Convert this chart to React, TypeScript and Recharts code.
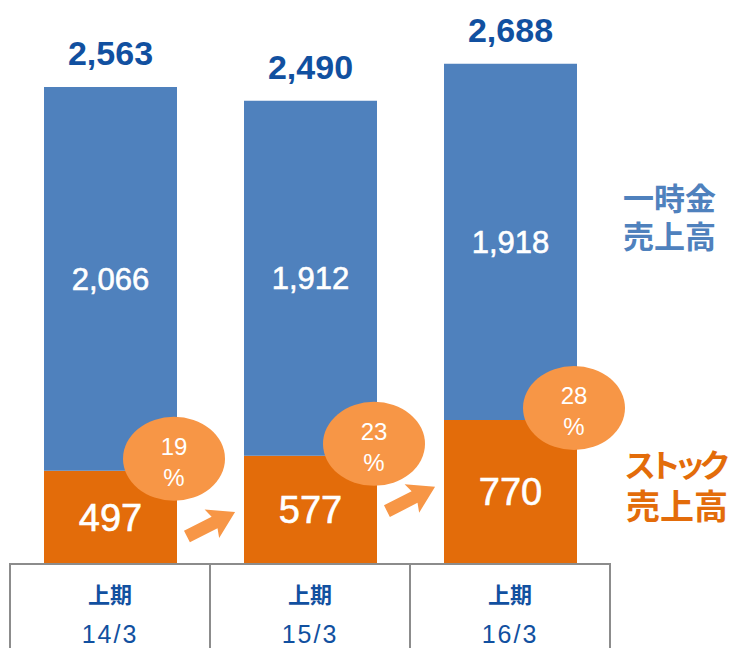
import React from "react";
import { BarChart, Bar, XAxis, YAxis, LabelList } from "recharts";

// ── Data ───────────────────────────────────────────────────────────────────
const periods = ["上期", "上期", "上期"];
const dates = ["14/3", "15/3", "16/3"];
const ichiji = [2066, 1912, 1918];   // 一時金売上高
const stock = [497, 577, 770];       // ストック売上高
const totals = [2563, 2490, 2688];
const shares = [19, 23, 28];         // ストック比率 %

const data = dates.map((d, i) => ({
  key: `${periods[i]}|${d}`,
  ichiji: ichiji[i],
  stock: stock[i],
}));

// ── Style tokens ───────────────────────────────────────────────────────────
const BLUE = "#4f81bd";
const ORANGE = "#e36c0a";
const LIGHT_ORANGE = "#f79646";
const NAVY = "#1150a0";
const GRID = "#8c8c8c";
const FONT = "'Liberation Sans', Arial, sans-serif";
const CJK = "'Noto Sans CJK JP', sans-serif";

const fmt = (v: number) => v.toLocaleString("en-US");

const geom = (p: any) => {
  const vb = p.viewBox ?? {};
  return {
    x: Number(p.x ?? vb.x),
    y: Number(p.y ?? vb.y),
    w: Number(p.width ?? vb.width),
    h: Number(p.height ?? vb.height),
  };
};
const idx = (p: any) => (typeof p.index === "number" ? p.index : ichiji.indexOf(Number(p.value)));

// labels drawn on the blue series (so they sit above both bars)
const BlueLabels = (p: any) => {
  const { x, y, w, h } = geom(p);
  const i = idx(p);
  if (i < 0 || Number.isNaN(x)) return null;
  const k = h / ichiji[i];             // px per unit
  const orangeTop = y + h;
  const base = orangeTop + stock[i] * k;
  const cx = x + w - 3;
  const cy = orangeTop - 12;
  let arrow: React.ReactNode = null;
  if (i < ichiji.length - 1) {
    const nextTop = base - stock[i + 1] * k;
    const ax = x + w + 34;
    const ay = (orangeTop + nextTop) / 2 + 61;
    arrow = (
      <polygon
        transform={`translate(${ax},${ay}) rotate(-27)`}
        points="-27,-6.5 4,-6.5 1,-16 27,0 1,16 4,6.5 -27,6.5"
        fill={LIGHT_ORANGE}
      />
    );
  }
  return (
    <g>
      <text x={x + w / 2} y={y - 22} textAnchor="middle" fontFamily={FONT}
        fontWeight="bold" fontSize={34} fill={NAVY}>{fmt(totals[i])}</text>
      <text x={x + w / 2} y={y + h / 2 + 11} textAnchor="middle" fontFamily={FONT}
        fontSize={31} fill="#fff" stroke="#fff" strokeWidth={0.6}>{fmt(ichiji[i])}</text>
      <text x={x + w / 2} y={orangeTop + (base - orangeTop) / 2 + 14} textAnchor="middle"
        fontFamily={FONT} fontSize={38} fill="#fff" stroke="#fff" strokeWidth={0.6}>{fmt(stock[i])}</text>
      {arrow}
      <ellipse cx={cx} cy={cy} rx={51} ry={42} fill={LIGHT_ORANGE} />
      <text x={cx} y={cy - 4} textAnchor="middle" fontFamily={FONT} fontSize={24} fill="#fff">
        {shares[i]}
      </text>
      <text x={cx} y={cy + 27} textAnchor="middle" fontFamily={FONT} fontSize={24} fill="#fff">
        %
      </text>
    </g>
  );
};

const TableTick = (p: any) => {
  const { x, y, payload } = p;
  const half = payload?.offset ?? 100;
  const [period, date] = String(payload.value).split("|");
  return (
    <g>
      <rect x={x - half} y={y + 1} width={half * 2} height={120} fill="none" stroke={GRID} strokeWidth={2} />
      <text x={x} y={y + 30} textAnchor="middle" dominantBaseline="central" fontFamily={CJK}
        fontWeight="bold" fontSize={22} fill={NAVY}>{period}</text>
      <text x={x} y={y + 80} textAnchor="middle" fontFamily={FONT} fontSize={25}
        letterSpacing={2} fill={NAVY}>{date}</text>
    </g>
  );
};

const legendStyle: React.CSSProperties = {
  position: "absolute",
  fontFamily: CJK,
  fontWeight: 700,
  whiteSpace: "pre",
};

export default function App() {
  return (
    <div style={{ position: "absolute", left: 0, top: 0, width: 733, height: 648, background: "#fff", overflow: "hidden" }}>
      <BarChart width={733} height={648} data={data}
        margin={{ top: 0, right: 123, left: 10, bottom: 0 }} barSize={133}>
        <XAxis dataKey="key" height={85} axisLine={false} tickLine={false}
          tickSize={0} tickMargin={0} interval={0} tick={<TableTick />} />
        <YAxis hide domain={[0, 3031]} />
        <Bar dataKey="stock" stackId="a" fill={ORANGE} isAnimationActive={false} />
        <Bar dataKey="ichiji" stackId="a" fill={BLUE} isAnimationActive={false}>
          <LabelList dataKey="ichiji" content={<BlueLabels />} />
        </Bar>
      </BarChart>
      <div style={{ ...legendStyle, left: 623, top: 178, fontSize: 31, lineHeight: "38px", color: BLUE }}>
        {"一時金\n売上高"}
      </div>
      <div style={{ ...legendStyle, left: 624, top: 445, fontSize: 32, lineHeight: "36px", letterSpacing: -7, color: ORANGE }}>
        ストック
      </div>
      <div style={{ ...legendStyle, left: 626, top: 486, fontSize: 34, lineHeight: "38px", color: ORANGE }}>
        売上高
      </div>
    </div>
  );
}
